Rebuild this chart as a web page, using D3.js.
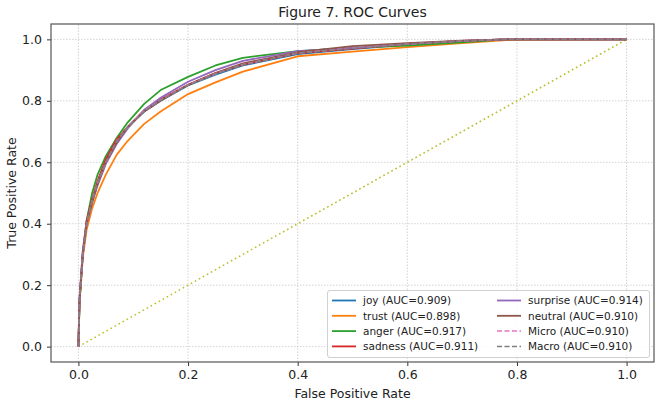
<!DOCTYPE html>
<html>
<head>
<meta charset="utf-8">
<script src="https://cdn.jsdelivr.net/npm/d3@7"></script>
<style>
  body { margin: 0; background: #fff; }
  text { font-family: "DejaVu Sans", sans-serif; fill: #222; }
</style>
</head>
<body>
<div id="chart"></div>
<script>
// False positive rates shared by all curves
const fpr = [0, 0.002, 0.008, 0.015, 0.025, 0.035, 0.05, 0.07, 0.09, 0.12, 0.15, 0.2, 0.25, 0.3, 0.4, 0.5, 0.6, 0.7, 0.78, 1.0];

// True positive rates
const joyTpr      = [0, 0.15, 0.30, 0.40, 0.47, 0.53, 0.60, 0.67, 0.715, 0.765, 0.80, 0.85, 0.885, 0.915, 0.952, 0.968, 0.983, 0.994, 1.0, 1.0];
const trustTpr    = [0, 0.14, 0.29, 0.38, 0.45, 0.50, 0.56, 0.625, 0.67, 0.725, 0.765, 0.822, 0.86, 0.895, 0.945, 0.96, 0.975, 0.988, 0.998, 1.0];
const angerTpr    = [0, 0.14, 0.30, 0.41, 0.50, 0.56, 0.62, 0.68, 0.73, 0.79, 0.835, 0.878, 0.915, 0.94, 0.962, 0.972, 0.98, 0.99, 1.0, 1.0];
const sadnessTpr  = [0, 0.15, 0.31, 0.41, 0.48, 0.54, 0.61, 0.675, 0.715, 0.77, 0.805, 0.852, 0.89, 0.918, 0.955, 0.97, 0.985, 0.995, 1.0, 1.0];
const surpriseTpr = [0, 0.16, 0.31, 0.40, 0.47, 0.525, 0.595, 0.66, 0.71, 0.77, 0.81, 0.862, 0.90, 0.93, 0.962, 0.972, 0.985, 0.995, 1.0, 1.0];
const neutralTpr  = [0, 0.15, 0.30, 0.40, 0.47, 0.53, 0.60, 0.665, 0.715, 0.765, 0.80, 0.852, 0.89, 0.922, 0.958, 0.978, 0.988, 0.996, 1.0, 1.0];
const microTpr    = [0, 0.15, 0.30, 0.40, 0.475, 0.535, 0.60, 0.67, 0.715, 0.768, 0.803, 0.852, 0.888, 0.918, 0.955, 0.972, 0.985, 0.995, 1.0, 1.0];
const macroTpr    = [0, 0.15, 0.30, 0.40, 0.472, 0.532, 0.60, 0.668, 0.715, 0.766, 0.802, 0.851, 0.887, 0.917, 0.955, 0.971, 0.985, 0.995, 1.0, 1.0];

const labels = ["joy (AUC=0.909)", "trust (AUC=0.898)", "anger (AUC=0.917)", "sadness (AUC=0.911)",
                "surprise (AUC=0.914)", "neutral (AUC=0.910)", "Micro (AUC=0.910)", "Macro (AUC=0.910)"];
const tickValues = [0, 0.2, 0.4, 0.6, 0.8, 1.0];

const series = [
  { label: labels[0], tpr: joyTpr,      color: "#1f77b4", dash: null },
  { label: labels[1], tpr: trustTpr,    color: "#ff7f0e", dash: null },
  { label: labels[2], tpr: angerTpr,    color: "#2ca02c", dash: null },
  { label: labels[3], tpr: sadnessTpr,  color: "#d62728", dash: null },
  { label: labels[4], tpr: surpriseTpr, color: "#9467bd", dash: null },
  { label: labels[5], tpr: neutralTpr,  color: "#8c564b", dash: null },
  { label: labels[6], tpr: microTpr,    color: "#e377c2", dash: "5,2.5" },
  { label: labels[7], tpr: macroTpr,    color: "#7f7f7f", dash: "5,2.5" }
];

const W = 656, H = 403;
const m = { left: 51, right: 2, top: 24, bottom: 41 };

const svg = d3.select("#chart").append("svg")
  .attr("width", W).attr("height", H);

const x = d3.scaleLinear().domain([-0.05, 1.05]).range([m.left, W - m.right]);
const y = d3.scaleLinear().domain([-0.05, 1.05]).range([H - m.bottom, m.top]);

// grid
const grid = svg.append("g");
grid.selectAll(".gx").data(tickValues).enter().append("line")
  .attr("x1", d => x(d)).attr("x2", d => x(d))
  .attr("y1", y.range()[0]).attr("y2", y.range()[1])
  .attr("stroke", "#c8c8c8").attr("stroke-width", 0.8).attr("stroke-dasharray", "1.5,1.5");
grid.selectAll(".gy").data(tickValues).enter().append("line")
  .attr("y1", d => y(d)).attr("y2", d => y(d))
  .attr("x1", x.range()[0]).attr("x2", x.range()[1])
  .attr("stroke", "#c8c8c8").attr("stroke-width", 0.8).attr("stroke-dasharray", "1.5,1.5");

// chance diagonal
svg.append("line")
  .attr("x1", x(0)).attr("y1", y(0)).attr("x2", x(1)).attr("y2", y(1))
  .attr("stroke", "#bcbd22").attr("stroke-width", 1.6).attr("stroke-dasharray", "1.6,3");

const line = d3.line()
  .x((d, i) => x(fpr[i]))
  .y(d => y(d));

svg.append("g").selectAll("path").data(series).enter().append("path")
  .attr("d", d => line(d.tpr))
  .attr("fill", "none")
  .attr("stroke", d => d.color)
  .attr("stroke-width", d => d.dash ? 1.5 : 1.8)
  .attr("stroke-dasharray", d => d.dash)
  .attr("stroke-linejoin", "round");

// axes
const fmt = d3.format(".1f");
const xAxis = svg.append("g")
  .attr("transform", `translate(0,${H - m.bottom})`)
  .call(d3.axisBottom(x).tickValues(tickValues).tickFormat(fmt).tickSize(4).tickPadding(4));
const yAxis = svg.append("g")
  .attr("transform", `translate(${m.left},0)`)
  .call(d3.axisLeft(y).tickValues(tickValues).tickFormat(fmt).tickSize(4).tickPadding(5));
[xAxis, yAxis].forEach(a => {
  a.select(".domain").remove();
  a.selectAll(".tick line").attr("stroke", "#333");
  a.selectAll(".tick text").attr("font-size", "12.5px").attr("fill", "#222")
    .style("font-family", "DejaVu Sans, sans-serif");
});

// frame
svg.append("rect")
  .attr("x", m.left).attr("y", m.top)
  .attr("width", W - m.right - m.left).attr("height", H - m.bottom - m.top)
  .attr("fill", "none").attr("stroke", "#555").attr("stroke-width", 1.2);

// titles
svg.append("text").attr("x", (x.range()[0] + x.range()[1]) / 2).attr("y", 17)
  .attr("text-anchor", "middle").attr("font-size", "14px").text("Figure 7. ROC Curves");
svg.append("text").attr("x", (x.range()[0] + x.range()[1]) / 2).attr("y", 398)
  .attr("text-anchor", "middle").attr("font-size", "12.5px").text("False Positive Rate");
svg.append("text")
  .attr("transform", `translate(16,${(y.range()[0] + y.range()[1]) / 2}) rotate(-90)`)
  .attr("text-anchor", "middle").attr("font-size", "12.5px").text("True Positive Rate");

// legend
const lg = svg.append("g");
lg.append("rect").attr("x", 327.5).attr("y", 290.5).attr("width", 322).attr("height", 67)
  .attr("rx", 2.5).attr("fill", "#fff").attr("fill-opacity", 0.85)
  .attr("stroke", "#d0d0d0").attr("stroke-width", 1);
const items = lg.selectAll(".item").data(series).enter().append("g")
  .attr("transform", (d, i) => {
    const col = Math.floor(i / 4), row = i % 4;
    return `translate(${col ? 497 : 332},${300.5 + row * 15.3})`;
  });
items.append("line").attr("x1", 0).attr("x2", 24)
  .attr("stroke", d => d.color).attr("stroke-width", d => d.dash ? 1.5 : 1.8)
  .attr("stroke-dasharray", d => d.dash);
items.append("text").attr("x", 31).attr("y", 3.8).attr("font-size", "10.5px").text(d => d.label);
</script>
</body>
</html>
